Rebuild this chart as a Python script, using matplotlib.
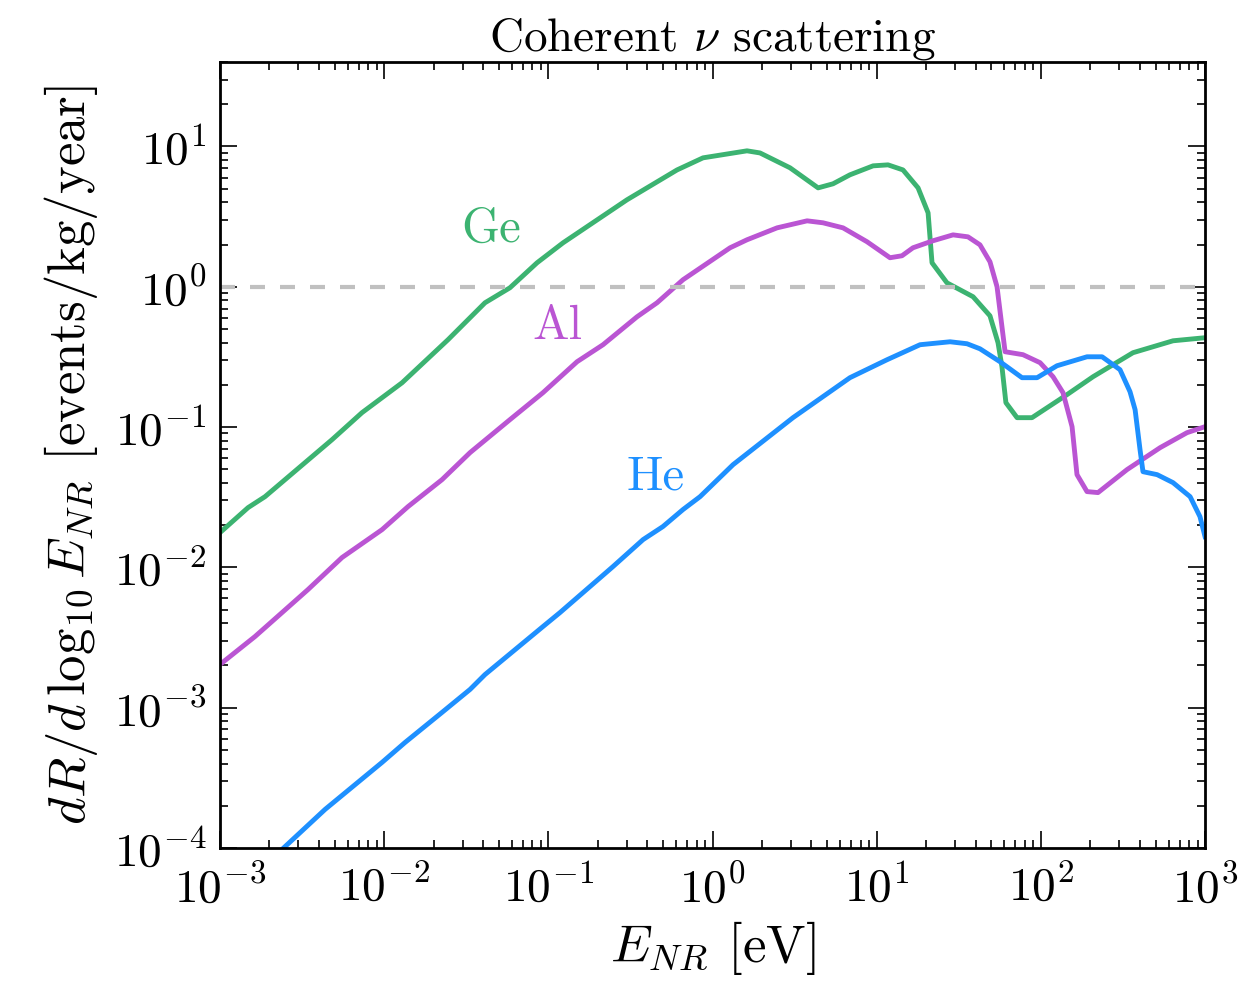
import numpy as np
import matplotlib
matplotlib.use("Agg")
import matplotlib.pyplot as plt

plt.rcParams["font.family"] = "serif"
plt.rcParams["font.serif"] = ["cmr10"]
plt.rcParams["mathtext.fontset"] = "cm"
plt.rcParams["axes.formatter.use_mathtext"] = True
plt.rcParams["axes.unicode_minus"] = False

# log10(E_NR / eV) and log10(rate)
ge_logE = [-3.0, -2.829, -2.726, -2.318, -2.135, -1.891, -1.611, -1.386, -1.234, -1.069,
           -0.911, -0.521, -0.216, -0.058, 0.210, 0.289, 0.472, 0.643, 0.734, 0.837,
           0.978, 1.069, 1.160, 1.252, 1.313, 1.337, 1.428, 1.587, 1.690, 1.739,
           1.763, 1.787, 1.855, 1.946, 2.159, 2.318, 2.561, 2.805, 3.0]
ge_logR = [-1.752, -1.574, -1.496, -1.090, -0.897, -0.684, -0.377, -0.114, -0.007, 0.171,
           0.313, 0.620, 0.833, 0.919, 0.969, 0.954, 0.848, 0.705, 0.734, 0.798,
           0.862, 0.869, 0.833, 0.705, 0.527, 0.171, 0.028, -0.071, -0.207, -0.399,
           -0.570, -0.826, -0.933, -0.933, -0.769, -0.641, -0.470, -0.385, -0.363]

al_logE = [-3.0, -2.787, -2.622, -2.464, -2.257, -2.013, -1.855, -1.648, -1.477, -1.234,
           -1.033, -0.825, -0.667, -0.460, -0.338, -0.180, 0.107, 0.210, 0.393, 0.576,
           0.673, 0.795, 0.941, 1.081, 1.154, 1.221, 1.343, 1.465, 1.556, 1.629,
           1.690, 1.733, 1.763, 1.782, 1.891, 1.995, 2.074, 2.135, 2.190, 2.220,
           2.281, 2.348, 2.525, 2.726, 2.890, 3.0]
al_logR = [-2.692, -2.493, -2.322, -2.158, -1.930, -1.731, -1.567, -1.375, -1.182, -0.947,
           -0.755, -0.534, -0.413, -0.214, -0.114, 0.050, 0.278, 0.335, 0.420, 0.470,
           0.456, 0.420, 0.321, 0.207, 0.221, 0.278, 0.328, 0.370, 0.356, 0.299,
           0.178, 0.0, -0.285, -0.463, -0.484, -0.541, -0.641, -0.755, -0.997, -1.339,
           -1.460, -1.467, -1.303, -1.147, -1.040, -0.997]

he_logE = [-3.0, -2.622, -2.360, -2.013, -1.873, -1.648, -1.477, -1.386, -1.033, -0.929,
           -0.606, -0.423, -0.302, -0.180, -0.076, 0.125, 0.490, 0.837, 1.063, 1.264,
           1.447, 1.550, 1.629, 1.751, 1.885, 1.977, 2.098, 2.281, 2.373, 2.482,
           2.543, 2.574, 2.604, 2.622, 2.708, 2.805, 2.909, 2.969, 3.0]
he_logR = [-4.387, -4.010, -3.725, -3.390, -3.248, -3.034, -2.870, -2.764, -2.422, -2.322,
           -1.994, -1.802, -1.709, -1.588, -1.496, -1.268, -0.933, -0.648, -0.520, -0.413,
           -0.392, -0.406, -0.442, -0.534, -0.648, -0.648, -0.563, -0.499, -0.499, -0.591,
           -0.748, -0.876, -1.161, -1.318, -1.339, -1.396, -1.496, -1.638, -1.781]

series = [
    ("Ge", ge_logE, ge_logR, "#3cb371", (0.045, 2.55)),
    ("Al", al_logE, al_logR, "#ba55d3", (0.113, 0.52)),
    ("He", he_logE, he_logR, "#1e90ff", (0.45, 0.044)),
]

fig = plt.figure(figsize=(12.58, 9.89), dpi=100)
ax = fig.add_axes([0.1749, 0.1426, 0.783, 0.7947])

for name, lx, ly, col, (tx, ty) in series:
    ax.plot(10 ** np.array(lx), 10 ** np.array(ly), color=col, lw=3.5)
    ax.text(tx, ty, name, color=col, fontsize=35, ha="center", va="center")

ax.axhline(1.0, color="#c0c0c0", lw=3, ls=(0, (3.6, 3.6)))

ax.set_xscale("log")
ax.set_yscale("log")
ax.set_xlim(1e-3, 1e3)
ax.set_ylim(1e-4, 40)

ax.tick_params(which="both", direction="in", top=True, right=True, width=1.2)
ax.tick_params(which="major", length=12, labelsize=34)
ax.tick_params(axis="x", which="major", pad=12)
ax.tick_params(axis="y", which="major", pad=10)
ax.tick_params(which="minor", length=6)
for s in ax.spines.values():
    s.set_linewidth(2)

ax.set_xlabel(r"$E_{NR}$ [eV]", fontsize=38, labelpad=6)
ax.set_ylabel(r"$dR/d\,\log_{10}E_{NR}$ [events/kg/year]", fontsize=38, labelpad=10)
ax.set_title(r"Coherent $\nu$ scattering", fontsize=34, pad=6)

fig.savefig("out.png", dpi=100)
